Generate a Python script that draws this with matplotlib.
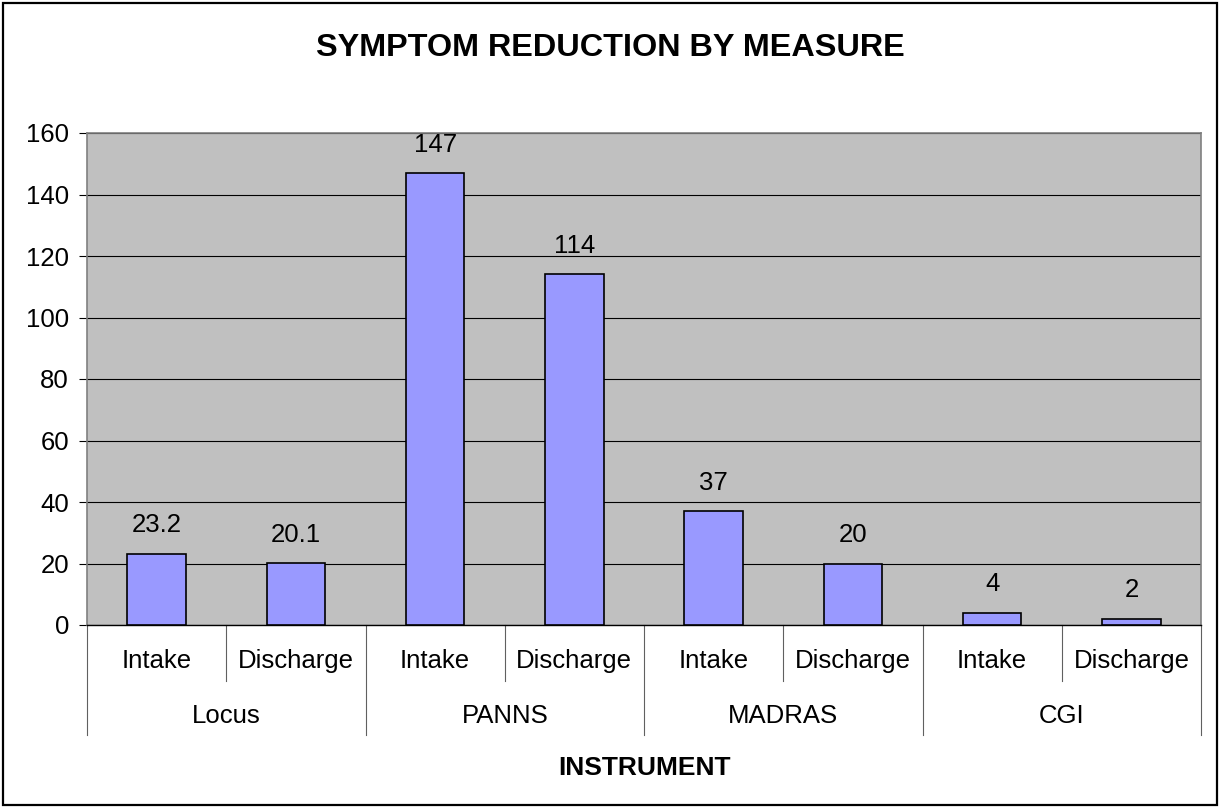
import matplotlib
matplotlib.use('Agg')
import matplotlib.pyplot as plt
from matplotlib.patches import Rectangle
import numpy as np

plt.rcParams['font.family'] = ['Liberation Sans', 'DejaVu Sans']

# data
groups = ['Locus', 'PANNS', 'MADRAS', 'CGI']
phases = ['Intake', 'Discharge']
values = [23.2, 20.1, 147, 114, 37, 20, 4, 2]
value_labels = ['23.2', '20.1', '147', '114', '37', '20', '4', '2']
yticks = [0, 20, 40, 60, 80, 100, 120, 140, 160]

W, H = 1220, 808
FS = 18.5
fig = plt.figure(figsize=(W / 100, H / 100), dpi=100)

# outer chart border
fig.patches.append(Rectangle((3 / W, 3 / H), 1 - 6 / W, 1 - 6 / H, transform=fig.transFigure,
                             fill=False, edgecolor='black', linewidth=1.6))

left, right, top, bottom = 87, 1201, 133, 625
ax = fig.add_axes([left / W, 1 - bottom / H, (right - left) / W, (bottom - top) / H])
ax.set_facecolor('#c0c0c0')

n = len(values)
x = np.arange(n)
ax.bar(x, values, width=0.42, color='#9999ff', edgecolor='black', linewidth=1.2, zorder=3)
for xi, v, lab in zip(x, values, value_labels):
    ax.annotate(lab, (xi, v), xytext=(0, 20.5), textcoords='offset points',
                ha='center', va='center', fontsize=FS)

ax.set_xlim(-0.5, n - 0.5)
ax.set_ylim(0, 160)
ax.set_yticks(yticks)
ax.yaxis.grid(True, color='black', linewidth=0.8, zorder=1)
ax.set_axisbelow(True)
ax.tick_params(axis='y', length=6, width=0.8, labelsize=FS, pad=7, direction='out')
ax.set_xticks([])
for s in ['top', 'right', 'left']:
    ax.spines[s].set_color('#808080')
    ax.spines[s].set_linewidth(1.2)
ax.spines['bottom'].set_color('black')
ax.spines['bottom'].set_linewidth(1.0)

# multi-level category axis, drawn in pixel offsets below the axes
def fy(py):
    return 1 - py / H

trans = matplotlib.transforms.blended_transform_factory(ax.transData, fig.transFigure)
for i in range(n + 1):
    xb = i - 0.5
    low = 735 if i % 2 == 0 else 681
    ax.plot([xb, xb], [fy(625), fy(low)], transform=trans, color='#606060',
            linewidth=0.8, clip_on=False)
for i in range(n):
    ax.text(i, fy(661), phases[i % 2], transform=trans, ha='center', va='center', fontsize=FS)
for g, name in enumerate(groups):
    ax.text(2 * g + 0.5, fy(716), name, transform=trans, ha='center', va='center', fontsize=FS)

fig.text((left + right) / 2 / W, fy(768), 'INSTRUMENT', ha='center', va='center',
         fontsize=19, fontweight='bold')
fig.text(0.5, fy(48), 'SYMPTOM REDUCTION BY MEASURE', ha='center', va='center',
         fontsize=23.3, fontweight='bold')

fig.savefig('out.png', dpi=100)
